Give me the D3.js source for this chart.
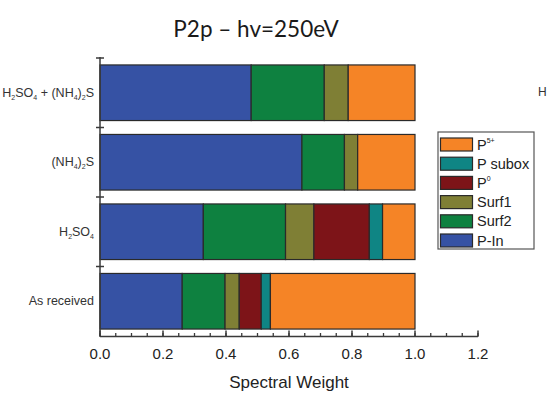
<!DOCTYPE html>
<html><head><meta charset="utf-8">
<script src="https://cdn.jsdelivr.net/npm/d3@7"></script>
<style>body{margin:0;background:#fff}svg{display:block}</style>
</head><body>
<svg id="c" width="549" height="399"></svg>
<script>
// Categories (top to bottom)
const categories = ["H2SO4 + (NH4)2S", "(NH4)2S", "H2SO4", "As received"];
// Series values (spectral weights), in stack order left to right
const pIn    = [0.480, 0.641, 0.328, 0.261];
const surf2  = [0.232, 0.135, 0.261, 0.136];
const surf1  = [0.076, 0.042, 0.090, 0.045];
const p0     = [0.000, 0.000, 0.176, 0.070];
const pSubox = [0.000, 0.000, 0.042, 0.029];
const p5     = [0.212, 0.182, 0.103, 0.459];
const seriesNames = ["P-In", "Surf2", "Surf1", "P0", "P subox", "P5+"];
const seriesColors = ["#3652a4", "#0e8140", "#7f7f35", "#7d1418", "#0f8584", "#f58426"];
const xTicks = [0, 0.2, 0.4, 0.6, 0.8, 1.0, 1.2];
const xMinorTicks = d3.range(0, 1.2001, 0.05);

const seriesVals = [pIn, surf2, surf1, p0, pSubox, p5];
const table = categories.map((c, i) => {
  const o = {cat: c};
  seriesNames.forEach((s, j) => o[s] = seriesVals[j][i]);
  return o;
});
const stacked = d3.stack().keys(seriesNames)(table);

const svg = d3.select("#c");
const x = d3.scaleLinear().domain([0, 1.2]).range([100, 478]);
const y = d3.scaleBand().domain(categories).range([58, 336]).paddingInner(0.2).paddingOuter(0.1);
const axisColor = "#3a3a3a";
const font = "'Liberation Sans', Arial, sans-serif";

// Title
svg.append("text").attr("x", 256).attr("y", 37).attr("text-anchor", "middle")
  .attr("font-family", "Lato, 'Open Sans', sans-serif").attr("font-size", 22.5).attr("fill", "#1a1a1a")
  .text("P2p \u2013 hv=250eV");

// Bars
const g = svg.append("g");
stacked.forEach((s, j) => {
  g.selectAll(null).data(s.filter(d => d[1] - d[0] > 0)).enter().append("rect")
    .attr("x", d => x(d[0])).attr("width", d => x(d[1]) - x(d[0]))
    .attr("y", d => y(d.data.cat)).attr("height", y.bandwidth())
    .attr("fill", seriesColors[j]).attr("stroke", "#2a2a2a").attr("stroke-width", 1.2);
});

// X axis
const xg = svg.append("g").attr("transform", "translate(0,336.5)");
xg.append("line").attr("x1", x(0)).attr("x2", x(1.2)).attr("stroke", axisColor).attr("stroke-width", 1.5);
xg.selectAll(".mi").data(xMinorTicks).enter().append("line")
  .attr("x1", d => x(d)).attr("x2", d => x(d)).attr("y1", 0).attr("y2", -3.5)
  .attr("stroke", axisColor).attr("stroke-width", 1.3);
xg.selectAll(".ma").data(xTicks).enter().append("line")
  .attr("x1", d => x(d)).attr("x2", d => x(d)).attr("y1", 0).attr("y2", -6)
  .attr("stroke", axisColor).attr("stroke-width", 1.5);
xg.selectAll(".lb").data(xTicks).enter().append("text")
  .attr("x", d => x(d)).attr("y", 22).attr("text-anchor", "middle")
  .attr("font-family", font).attr("font-size", 15).attr("fill", "#222")
  .text(d => d3.format(".1f")(d));
svg.append("text").attr("x", x(0.6)).attr("y", 388).attr("text-anchor", "middle")
  .attr("font-family", font).attr("font-size", 17).attr("fill", "#222")
  .text("Spectral Weight");

// Y axis
const yg = svg.append("g");
yg.append("line").attr("x1", x(0)).attr("x2", x(0)).attr("y1", 57).attr("y2", 336.5)
  .attr("stroke", axisColor).attr("stroke-width", 1.5);
const bounds = categories.map(c => y(c) - y.step() * y.paddingInner() / 2);
yg.selectAll(".yt").data(bounds).enter().append("line")
  .attr("x1", x(0) - 4).attr("x2", x(0) + 4).attr("y1", d => d).attr("y2", d => d)
  .attr("stroke", axisColor).attr("stroke-width", 1.5);

// Y labels with subscripts
const labelParts = {
  "H2SO4 + (NH4)2S": [["H",0],["2",1],["SO",0],["4",1],[" + (NH",0],["4",1],[")",0],["2",1],["S",0]],
  "(NH4)2S": [["(NH",0],["4",1],[")",0],["2",1],["S",0]],
  "H2SO4": [["H",0],["2",1],["SO",0],["4",1]],
  "As received": [["As received",0]]
};
categories.forEach(c => {
  const t = svg.append("text").attr("x", 94).attr("y", y(c) + y.bandwidth() / 2 + 4)
    .attr("text-anchor", "end").attr("font-family", font)
    .attr("font-size", 12.5).attr("fill", "#333");
  let prevSub = false;
  labelParts[c].forEach(([s, sub]) => {
    const ts = t.append("tspan").text(s);
    if (sub) ts.attr("font-size", 7);
    ts.attr("dy", sub && !prevSub ? 3 : (!sub && prevSub ? -3 : 0));
    prevSub = !!sub;
  });
});

// Legend
const lg = svg.append("g");
lg.append("rect").attr("x", 438).attr("y", 132).attr("width", 96).attr("height", 117)
  .attr("fill", "#fff").attr("stroke", "#555").attr("stroke-width", 1.2);
const order = [5, 4, 3, 2, 1, 0];
const legendLabels = [["P", "5+"], ["P subox", ""], ["P", "0"], ["Surf1", ""], ["Surf2", ""], ["P-In", ""]];
order.forEach((j, i) => {
  const cy = 144.5 + i * 19.2;
  lg.append("rect").attr("x", 440.5).attr("y", cy - 6.5).attr("width", 32).attr("height", 13)
    .attr("fill", seriesColors[j]).attr("stroke", "#2a2a2a").attr("stroke-width", 1.2);
  const t = lg.append("text").attr("x", 477).attr("y", cy + 5)
    .attr("font-family", font).attr("font-size", 14.5).attr("fill", "#222");
  t.append("tspan").text(legendLabels[i][0]);
  if (legendLabels[i][1]) t.append("tspan").attr("font-size", 7).attr("dy", -7).text(legendLabels[i][1]);
});

// cut-off label from neighbouring panel
svg.append("text").attr("x", 538).attr("y", 96).attr("font-family", font)
  .attr("font-size", 12).attr("fill", "#333").text("H");
</script>
</body></html>
